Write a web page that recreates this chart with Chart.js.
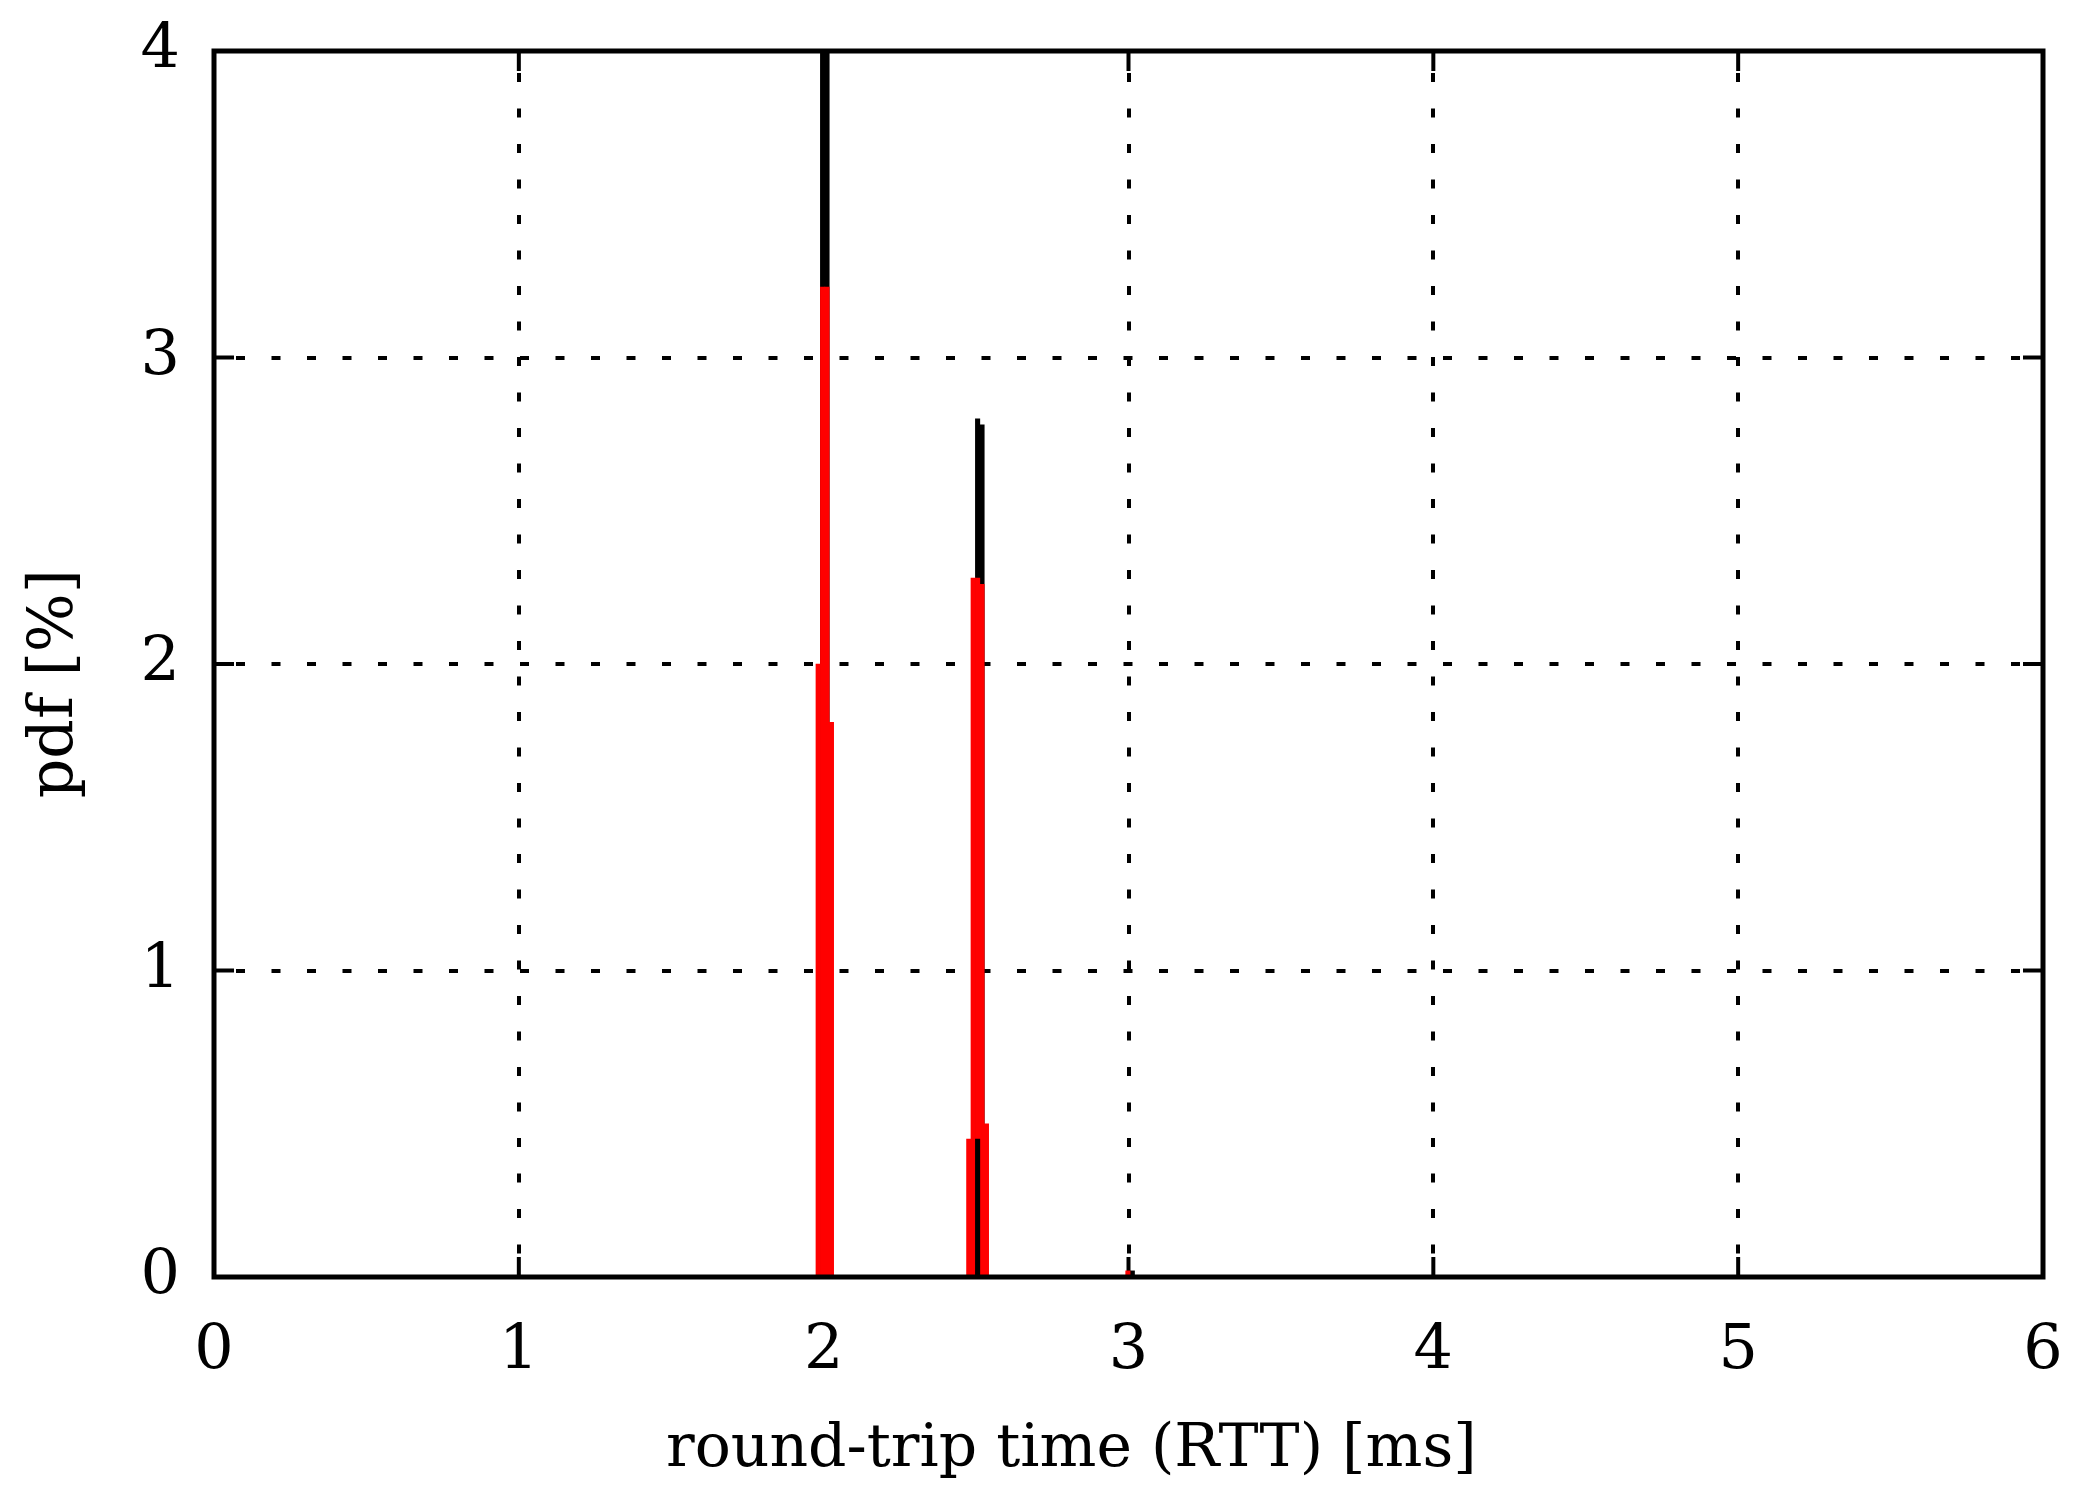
<!DOCTYPE html>
<html>
<head>
<meta charset="utf-8">
<script src="https://cdn.jsdelivr.net/npm/chart.js@4/dist/chart.umd.min.js"></script>
<style>
  html, body { margin: 0; padding: 0; background: #ffffff; }
  #c { display: block; }
</style>
</head>
<body>
<canvas id="c" width="2086" height="1512"></canvas>
<script>
// ---- data ----
const xTickValues = [0, 1, 2, 3, 4, 5, 6];
const yTickValues = [0, 1, 2, 3, 4];
const xTitle = "round-trip time (RTT) [ms]";
const yTitle = "pdf [%]";

// red series (drawn over the black one)
const redX = [1.982, 1.9965, 2.011, 2.0255, 2.476, 2.4905, 2.505, 2.5195, 2.534, 2.998];
const redY = [2.00, 3.23, 3.23, 1.81, 0.45, 2.28, 2.28, 2.26, 0.50, 0.02];

// black series (drawn behind the red one)
const blackX = [1.9965, 2.011, 2.505, 2.5195, 3.0125];
const blackY = [4.4, 4.4, 2.80, 2.78, 0.02];

// small black series drawn on top of everything
const topBlackX = [2.505];
const topBlackY = [0.45];

const toPts = (xs, ys) => xs.map((x, i) => ({ x: x, y: ys[i] }));

// ---- layout constants ----
const W = 2086, H = 1512;
const AREA = { left: 214, right: 2043, top: 51, bottom: 1277 };
const NB = '\u00a0';
const FONT = '"DejaVu Serif", "Liberation Serif", serif';

const framePlugin = {
  id: 'frame',
  beforeDatasetsDraw(chart) {
    const { ctx, chartArea: a, scales } = chart;
    const len = 20;
    ctx.save();
    ctx.strokeStyle = '#000';
    ctx.lineWidth = 4;
    ctx.beginPath();
    xTickValues.forEach(v => {
      const px = scales.x.getPixelForValue(v);
      ctx.moveTo(px, a.bottom); ctx.lineTo(px, a.bottom - len);
      ctx.moveTo(px, a.top); ctx.lineTo(px, a.top + len);
    });
    yTickValues.forEach(v => {
      const py = scales.y.getPixelForValue(v);
      ctx.moveTo(a.left, py); ctx.lineTo(a.left + len, py);
      ctx.moveTo(a.right, py); ctx.lineTo(a.right - len, py);
    });
    ctx.stroke();
    ctx.restore();
  },
  afterDatasetsDraw(chart) {
    const { ctx, chartArea: a } = chart;
    ctx.save();
    ctx.strokeStyle = '#000';
    ctx.lineWidth = 5;
    ctx.strokeRect(a.left, a.top, a.right - a.left, a.bottom - a.top);
    ctx.restore();
  }
};

const makeGrid = () => ({
  color: '#000000',
  lineWidth: 4,
  offset: false,
  drawTicks: true,
  tickLength: 24,
  tickColor: 'rgba(0,0,0,0)'
});
const makeBorder = () => ({
  display: false,
  dash: [9, 26.5],
  dashOffset: 13.5
});

new Chart(document.getElementById('c'), {
  type: 'bar',
  data: {
    datasets: [
      { label: 'top', data: toPts(topBlackX, topBlackY), backgroundColor: '#000000' },
      { label: 'red', data: toPts(redX, redY), backgroundColor: '#ff0000' },
      { label: 'black', data: toPts(blackX, blackY), backgroundColor: '#000000' }
    ]
  },
  options: {
    responsive: false,
    animation: false,
    devicePixelRatio: 1,
    layout: { padding: { top: AREA.top, right: W - AREA.right, left: 0, bottom: 0 } },
    datasets: { bar: { grouped: false, barPercentage: 1, categoryPercentage: 1, borderWidth: 0 } },
    plugins: { legend: { display: false }, tooltip: { enabled: false }, title: { display: false } },
    scales: {
      x: {
        type: 'linear',
        min: 0, max: 6,
        offset: false,
        afterBuildTicks: s => { s.ticks = xTickValues.map(v => ({ value: v })); },
        ticks: {
          color: '#000',
          padding: 14,
          maxRotation: 0,
          font: { family: FONT, size: 62 }
        },
        grid: makeGrid(),
        border: makeBorder(),
        title: {
          display: true,
          text: xTitle + NB.repeat(6),
          color: '#000',
          padding: { top: 0, bottom: 26 },
          font: { family: FONT, size: 60 }
        },
        afterFit: s => { s.height = H - AREA.bottom; }
      },
      y: {
        type: 'linear',
        min: 0, max: 4,
        afterBuildTicks: s => { s.ticks = yTickValues.map(v => ({ value: v })); },
        ticks: {
          color: '#000',
          padding: 10,
          font: { family: FONT, size: 62 }
        },
        grid: makeGrid(),
        border: makeBorder(),
        title: {
          display: true,
          text: yTitle + NB.repeat(2),
          color: '#000',
          padding: { top: 19, bottom: 0 },
          font: { family: FONT, size: 62 }
        },
        afterFit: s => { s.width = AREA.left; }
      }
    }
  },
  plugins: [framePlugin]
});
</script>
</body>
</html>
